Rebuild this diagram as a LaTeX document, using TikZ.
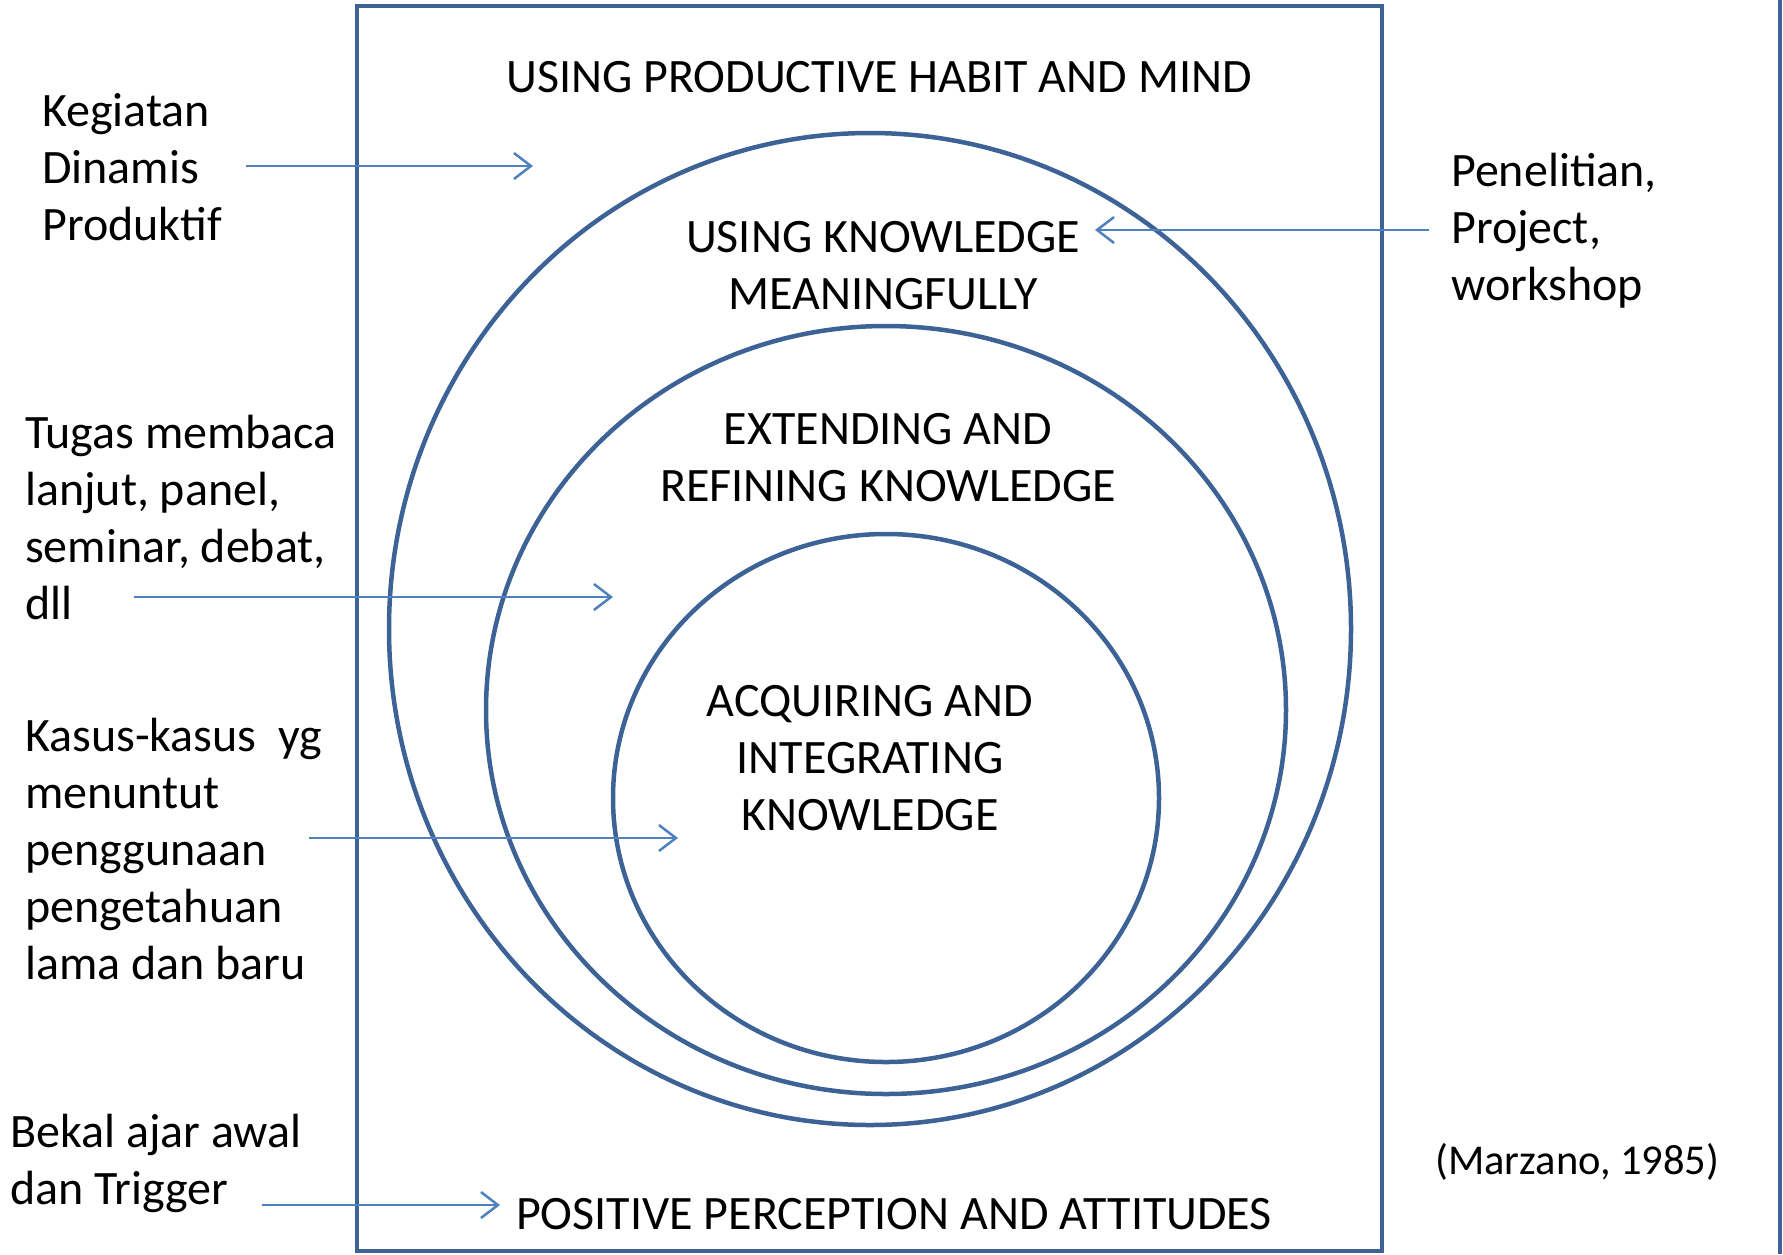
\documentclass[tikz,border=0pt]{standalone}
\usepackage{fontspec}
\setmainfont{Carlito}
\usepackage{tikz}
\usetikzlibrary{arrows.meta}
\definecolor{ringblue}{HTML}{3C6296}
\definecolor{arrowblue}{HTML}{4F81BD}
\tikzset{>/.tip={Straight Barb[length=17pt,width=26pt]}}
\tikzset{
  txt/.style={inner sep=0pt, font=\fontsize{48}{57}\selectfont},
  lefttxt/.style={txt, anchor=west, align=left},
  midtxt/.style={txt, align=center},
  ring/.style={draw=ringblue, line width=4.5pt},
  link/.style={->, draw=arrowblue, line width=2.5pt}
}

\begin{document}
\begin{tikzpicture}[x=1pt, y=-1pt]
\useasboundingbox (0,0) rectangle (1783,1254);

% frame and rings
\draw[ring] (357,6) rectangle (1382,1251);
\draw[ring] (1780,0) -- (1780,1254);
\draw[ring] (870,629) ellipse [x radius=481, y radius=496];
\draw[ring] (886,710) ellipse [x radius=400, y radius=384];
\draw[ring] (886,798) ellipse [x radius=273, y radius=264];

% texts inside
\node[midtxt] (habit) at (879,77) {USING PRODUCTIVE HABIT AND MIND};
\node[midtxt] (using) at (883,266) {USING KNOWLEDGE\\MEANINGFULLY};
\node[midtxt] (extend) at (888,458) {EXTENDING AND\\REFINING KNOWLEDGE};
\node[midtxt] (acquire) at (870,758) {ACQUIRING AND\\INTEGRATING\\KNOWLEDGE};
\node[midtxt] (positive) at (894,1214) {POSITIVE PERCEPTION AND ATTITUDES};

% texts outside
\node[lefttxt] (kegiatan) at (42,167) {Kegiatan\\Dinamis\\Produktif};
\node[lefttxt] (tugas) at (25,517) {Tugas membaca\\lanjut, panel,\\seminar, debat,\\dll};
\node[lefttxt] (kasus) at (25,849) {Kasus-kasus\ \ yg\\menuntut\\penggunaan\\pengetahuan\\lama dan baru};
\node[lefttxt] (bekal) at (10,1163) {Bekal ajar awal\\dan Trigger};
\node[lefttxt] (penelitian) at (1451,231) {Penelitian,\\Project,\\workshop};
\node[lefttxt, font=\fontsize{42.5}{52}\selectfont] (marzano) at (1435,1162) {(Marzano, 1985)};

% arrows
\coordinate (k1) at (246,166);  \coordinate (k2) at (533,166);
\coordinate (p1) at (1429,230); \coordinate (p2) at (1095,230);
\coordinate (t1) at (134,597);  \coordinate (t2) at (613,597);
\coordinate (c1) at (309,838);  \coordinate (c2) at (678,838);
\coordinate (b1) at (262,1205); \coordinate (b2) at (500,1205);

\draw[link] (k1) to (k2);
\draw[link] (p1) to (p2);
\draw[link] (t1) to (t2);
\draw[link] (c1) to (c2);
\draw[link] (b1) to (b2);
\end{tikzpicture}
\end{document}
